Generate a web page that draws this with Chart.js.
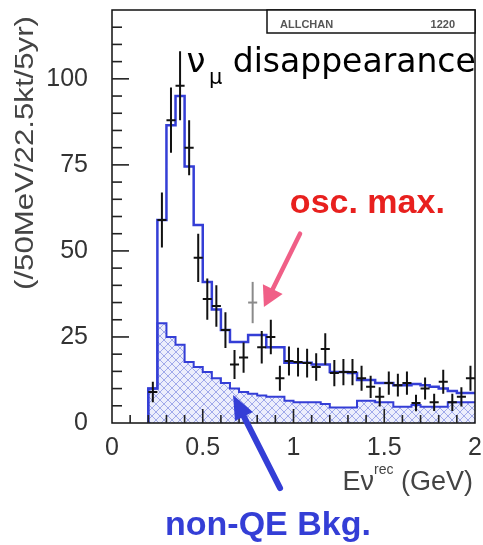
<!DOCTYPE html>
<html><head><meta charset="utf-8">
<script src="https://cdn.jsdelivr.net/npm/chart.js@4.4.1/dist/chart.umd.min.js"></script>
<style>html,body{margin:0;padding:0;background:#fff;}#wrap{width:483px;height:545px;}</style>
</head><body><div id="wrap"><canvas id="c" width="483" height="545"></canvas></div>
<script>
// ---- data (50 MeV bins from 0.20 to 2.00 GeV) ----
const binEdges = [0.20,0.25,0.30,0.35,0.40,0.45,0.50,0.55,0.60,0.65,0.70,0.75,0.80,0.85,0.90,0.95,1.00,1.05,1.10,1.15,1.20,1.25,1.30,1.35,1.40,1.45,1.50,1.55,1.60,1.65,1.70,1.75,1.80,1.85,1.90,1.95,2.00];
const mcTotal = [10,59,86.5,95,74.5,57.5,41,33,27,23.5,23.5,25.6,25.6,22,22,17.5,17.5,17.5,17,17,14.8,14.8,14.5,12.5,12.5,11.6,11.6,11,11,11.3,11,10.5,10,9.3,8.7,8.7];
const mcBkg = [10,29,25,22.7,17.7,16.3,14.8,13,11.6,10,9,8.5,8,7.6,7.6,6.5,6,6,6,5.5,4.5,4.5,4.5,6.5,6.5,6,6,4.7,4.7,5.2,4.7,4.7,4.7,6,6,6];
const dataCounts = [9,59,88,98,80,48,36,34,27,17,19,35,22,25,13,18,17.7,17.4,16.3,21.5,14.5,14.8,14.8,13,10.5,7.6,11.6,11,11.6,5.8,10,6,12,6,7.6,13];
const dataErrors = [3,8,9.5,10,8,7,6,6,5.2,4.2,4.4,6,4.7,5,3.6,4.2,4.2,4.2,4,4.6,3.8,3.8,3.8,3.6,3.2,2.8,3.4,3.3,3.4,2.4,3.2,2.5,3.5,2.5,2.8,3.6];
const grayBins = [11]; // index of the lighter (grey) data point
const xTickVals = [0,0.5,1,1.5,2];
const xTickLabels = ['0','0.5','1','1.5','2'];
const yTickVals = [0,25,50,75,100];
const yTickLabels = ['0','25','50','75','100'];

// ---- build library-ready points ----
function stepPoints(vals){
  const pts=[{x:binEdges[0],y:0}];
  vals.forEach((v,i)=>{pts.push({x:binEdges[i],y:v});pts.push({x:binEdges[i+1],y:v});});
  return pts;
}
function errPoints(useGray){
  const v=[],h=[];
  dataCounts.forEach((n,i)=>{
    if((grayBins.indexOf(i)>=0)!==useGray) return;
    const lo=binEdges[i], hi=binEdges[i+1], c=(lo+hi)/2, e=dataErrors[i];
    v.push({x:c,y:n-e},{x:c,y:n+e},{x:c,y:null});
    h.push({x:lo,y:n},{x:hi,y:n},{x:c,y:null});
  });
  return [v,h];
}
const [vBlack,hBlack]=errPoints(false);
const [vGray,hGray]=errPoints(true);

function makeHatch(){
  const c=document.createElement('canvas'); c.width=8; c.height=8;
  const g=c.getContext('2d');
  g.fillStyle='rgb(236,238,252)'; g.fillRect(0,0,8,8);
  g.strokeStyle='rgba(135,145,228,0.75)'; g.lineWidth=1;
  g.beginPath(); g.moveTo(0,0); g.lineTo(8,8); g.moveTo(8,0); g.lineTo(0,8); g.stroke();
  return g.createPattern(c,'repeat');
}
const BLUE='rgb(52,62,214)';

function arrow(ctx,x1,y1,x2,y2,color,lw,hl,hw){
  const a=Math.atan2(y2-y1,x2-x1);
  const bx=x2-hl*Math.cos(a), by=y2-hl*Math.sin(a);
  ctx.strokeStyle=color; ctx.lineWidth=lw; ctx.lineCap='round';
  ctx.beginPath(); ctx.moveTo(x1,y1); ctx.lineTo(bx,by); ctx.stroke();
  ctx.fillStyle=color; ctx.beginPath(); ctx.moveTo(x2,y2);
  ctx.lineTo(bx+hw*Math.sin(a),by-hw*Math.cos(a));
  ctx.lineTo(bx-hw*Math.sin(a),by+hw*Math.cos(a)); ctx.closePath(); ctx.fill();
}

const decor={
  id:'decor',
  beforeDraw(chart){const c=chart.ctx;c.save();c.fillStyle='#fff';c.fillRect(0,0,chart.width,chart.height);c.restore();},
  afterDraw(chart){
    const ctx=chart.ctx, a=chart.chartArea, X=chart.scales.x, Y=chart.scales.y;
    const px=v=>X.getPixelForValue(v), py=v=>Y.getPixelForValue(v);
    ctx.save();
    // frame
    ctx.strokeStyle='#111'; ctx.lineWidth=1.5;
    ctx.strokeRect(a.left,a.top,a.right-a.left,a.bottom-a.top);
    // inward ticks
    ctx.lineWidth=1.6; ctx.strokeStyle='#222';
    for(let v=5;v<120;v+=5){const y=py(v);const L=(v%25===0)?17:10;
      ctx.beginPath();ctx.moveTo(a.left,y);ctx.lineTo(a.left+L,y);ctx.stroke();}
    for(let k=1;k<20;k++){const x=px(k/10);const L=(k%5===0)?14:8;
      ctx.beginPath();ctx.moveTo(x,a.bottom);ctx.lineTo(x,a.bottom-L);ctx.stroke();}
    // stats box
    ctx.lineWidth=1.5; ctx.strokeStyle='#111';
    ctx.fillStyle='#fff';
    ctx.fillRect(267,a.top,a.right-267,23); ctx.strokeRect(267,a.top,a.right-267,23);
    ctx.fillStyle='#555'; ctx.font='bold 11px "Liberation Sans"'; ctx.textBaseline='alphabetic';
    ctx.textAlign='left'; ctx.fillText('ALLCHAN',280,28);
    ctx.textAlign='right'; ctx.fillText('1220',455,28);
    // y title
    ctx.save(); ctx.translate(33,153); ctx.rotate(-Math.PI/2); ctx.scale(1.2,1);
    ctx.fillStyle='#444'; ctx.font='26px "Liberation Sans"'; ctx.textAlign='center'; ctx.textBaseline='alphabetic';
    ctx.fillText('(/50MeV/22.5kt/5yr)',0,0); ctx.restore();
    // x title
    ctx.fillStyle='#444'; ctx.textBaseline='alphabetic'; ctx.textAlign='left';
    ctx.font='27px "Liberation Sans"'; const w1=ctx.measureText('E\u03bd').width, w3=ctx.measureText(' (GeV)').width;
    ctx.font='14px "Liberation Sans"'; const w2=ctx.measureText('rec').width;
    let sx=473-w1-w2-w3;
    ctx.font='27px "Liberation Sans"'; ctx.fillText('E\u03bd',sx,490);
    ctx.font='14px "Liberation Sans"'; ctx.fillText('rec',sx+w1,474);
    ctx.font='27px "Liberation Sans"'; ctx.fillText(' (GeV)',sx+w1+w2,490);
    // nu_mu disappearance
    ctx.fillStyle='#000';
    ctx.font='34px "DejaVu Sans"'; ctx.fillText('\u03bd',px(0.41),py(102));
    ctx.font='21px "DejaVu Sans"'; ctx.fillText('\u03bc',px(0.535),py(98.5));
    ctx.font='33px "DejaVu Sans"'; ctx.fillText('disappearance',px(0.665),py(102));
    // osc. max.
    ctx.fillStyle='rgb(232,32,30)'; ctx.font='bold 34px "Liberation Sans"';
    ctx.fillText('osc. max.',px(0.98),py(61));
    arrow(ctx,px(1.036),py(55),px(0.837),py(33.7),'rgb(240,95,135)',4.5,20,11);
    // non-QE Bkg.
    arrow(ctx,px(0.926),py(-18.9),px(0.667),py(8.1),BLUE,6,24,10);
    ctx.fillStyle=BLUE; ctx.font='bold 34px "Liberation Sans"';
    ctx.fillText('non-QE Bkg.',px(0.292),py(-32.6));
    ctx.restore();
  }
};

new Chart(document.getElementById('c').getContext('2d'),{
  type:'line',
  data:{datasets:[
    {label:'data',data:vBlack,borderColor:'#111',borderWidth:2,pointRadius:0,spanGaps:false,fill:false,order:1},
    {label:'data-h',data:hBlack,borderColor:'#111',borderWidth:2,pointRadius:0,spanGaps:false,fill:false,order:1},
    {label:'data-grey',data:vGray,borderColor:'#8a8a8a',borderWidth:2,pointRadius:0,spanGaps:false,fill:false,order:1},
    {label:'data-grey-h',data:hGray,borderColor:'#8a8a8a',borderWidth:2,pointRadius:0,spanGaps:false,fill:false,order:1},
    {label:'MC total',data:stepPoints(mcTotal),borderColor:BLUE,borderWidth:2.5,pointRadius:0,fill:false,tension:0,order:3},
    {label:'non-QE bkg',data:stepPoints(mcBkg),borderColor:BLUE,borderWidth:2,pointRadius:0,fill:'origin',backgroundColor:makeHatch(),tension:0,order:5}
  ]},
  options:{
    responsive:false,animation:false,
    layout:{padding:{left:48,right:8,top:10,bottom:82}},
    plugins:{legend:{display:false},tooltip:{enabled:false}},
    elements:{line:{borderJoinStyle:'miter'}},
    scales:{
      x:{type:'linear',min:0,max:2,
        grid:{display:false,drawTicks:false},border:{display:false},
        afterBuildTicks:s=>{s.ticks=xTickVals.map(v=>({value:v}));},
        afterFit:s=>{s.height=40;s.paddingLeft=0;s.paddingRight=0;},
        ticks:{autoSkip:false,maxRotation:0,padding:10,color:'#333',font:{family:'Liberation Sans',size:25},
          callback:(v,i)=>xTickLabels[i]}},
      y:{type:'linear',min:0,max:120,
        grid:{display:false,drawTicks:false},border:{display:false},
        afterBuildTicks:s=>{s.ticks=yTickVals.map(v=>({value:v}));},
        afterFit:s=>{s.width=64;s.paddingTop=0;s.paddingBottom=0;},
        ticks:{autoSkip:false,padding:24,color:'#333',font:{family:'Liberation Sans',size:25},
          callback:(v,i)=>yTickLabels[i]}}
    }
  },
  plugins:[decor]
});
</script></body></html>
